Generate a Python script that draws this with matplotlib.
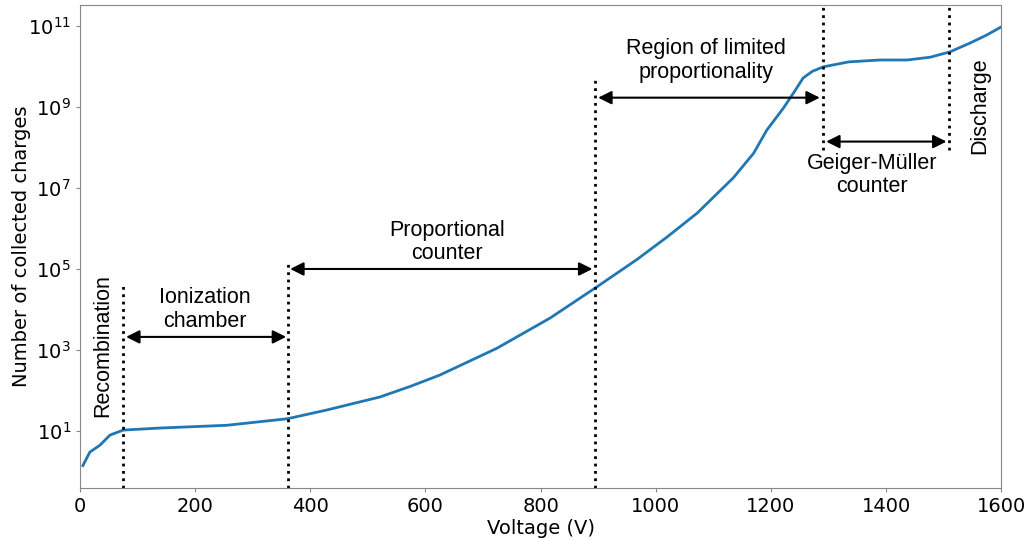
import numpy as np
import matplotlib
matplotlib.use('Agg')
import matplotlib.pyplot as plt

# curve
voltage = [5, 17, 35, 52, 75, 139, 255, 360, 429, 521, 573, 625, 724, 817, 895,
           967, 1020, 1072, 1135, 1170, 1193, 1222, 1240, 1256, 1272, 1291, 1335, 1390, 1437,
           1477, 1511, 1546, 1575, 1600]
charges = [1.4, 3.0, 4.5, 7.9, 10.5, 11.8, 13.8, 20, 33, 69, 125, 240, 1.1e3, 6.2e3, 3.4e4,
           1.7e5, 6.2e5, 2.4e6, 1.8e7, 7.2e7, 2.7e8, 9.5e8, 2.3e9, 5.2e9, 7.6e9, 9.8e9, 1.3e10,
           1.45e10, 1.45e10, 1.7e10, 2.3e10, 3.8e10, 6.0e10, 9.5e10]

y_lo, y_hi = 0.39, 3.3e11

# region boundaries (voltage, bottom, top)
bounds_v = [75, 362, 895, 1290, 1510]
bounds_lo = [y_lo, y_lo, y_lo, 8.7e7, 8.7e7]
bounds_hi = [4.8e4, 1.7e5, 5.5e9, y_hi, y_hi]

# double arrows (start, end, height)
arrow_x0 = [80, 365, 900, 1296]
arrow_x1 = [358, 890, 1285, 1505]
arrow_y = [2.1e3, 1.0e5, 1.7e9, 1.4e8]

labels = ['Ionization\nchamber', 'Proportional\ncounter',
          'Region of limited\nproportionality', 'Geiger-Müller\ncounter']
label_x = [217, 638, 1088, 1376]
label_y = [1.0e4, 4.7e5, 1.4e10, 2.1e7]

side_labels = ['Recombination', 'Discharge']
side_x = [40, 1563]
side_y = [1.3e3, 1.1e9]

fig = plt.figure(figsize=(10.3, 5.4), dpi=100)
ax = fig.add_axes([0.0777, 0.0963, 0.8943, 0.8944])

ax.plot(voltage, charges, color='tab:blue', lw=2)
ax.set_yscale('log')
ax.set_xlim(0, 1600)
ax.set_ylim(y_lo, y_hi)

ax.vlines(bounds_v, bounds_lo, bounds_hi, colors='black', linestyles=':', lw=2)

for x0, x1, y in zip(arrow_x0, arrow_x1, arrow_y):
    ax.annotate('', xy=(x1, y), xytext=(x0, y),
                arrowprops=dict(arrowstyle='<|-|>', color='black', lw=1.5,
                                mutation_scale=20, shrinkA=0, shrinkB=0))

afont = ['Liberation Sans', 'DejaVu Sans']
for t, x, y in zip(labels, label_x, label_y):
    ax.text(x, y, t, ha='center', va='center', fontsize=15.5, family=afont,
            linespacing=1.15)
for t, x, y in zip(side_labels, side_x, side_y):
    ax.text(x, y, t, ha='center', va='center', fontsize=15.5, family=afont,
            rotation=90)

ax.set_yticks([1e1, 1e3, 1e5, 1e7, 1e9, 1e11])
ax.yaxis.set_minor_locator(matplotlib.ticker.NullLocator())
ax.tick_params(labelsize=14, length=3, color='#888888')
ax.set_xlabel('Voltage (V)', fontsize=14, labelpad=2)
ax.set_ylabel('Number of collected charges', fontsize=14, labelpad=-2)
for s in ax.spines.values():
    s.set_color('#888888')

fig.savefig('out.png')
